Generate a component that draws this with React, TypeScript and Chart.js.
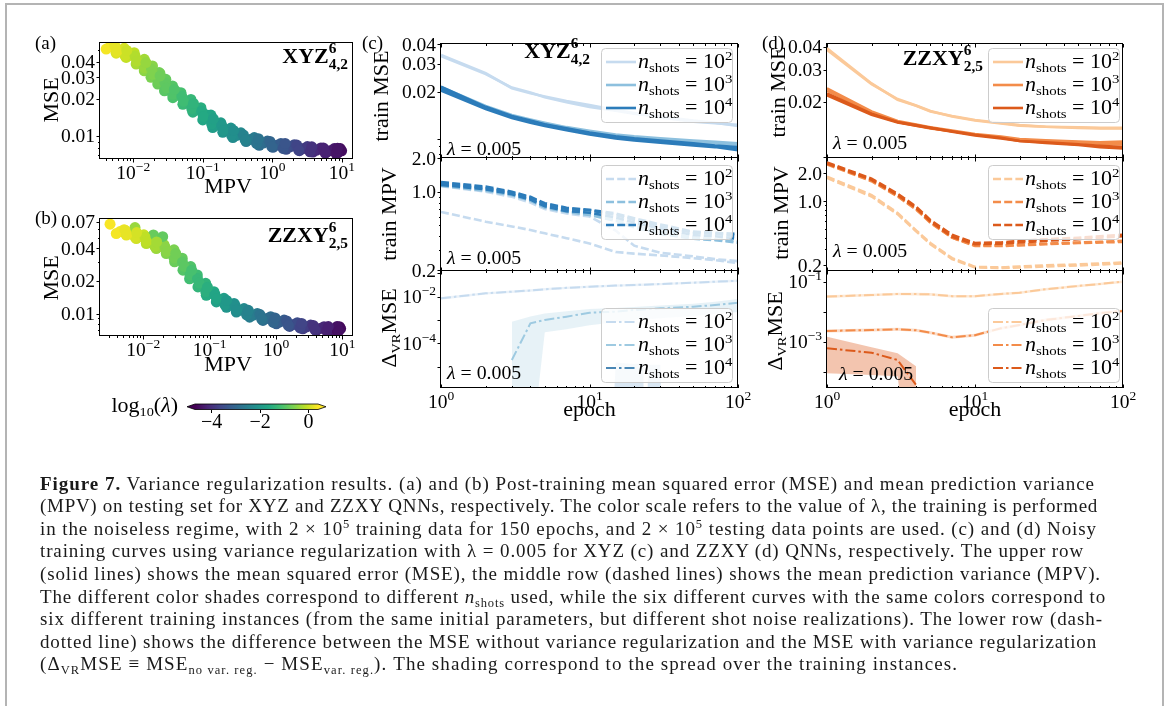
import React, { useEffect, useLayoutEffect, useRef } from 'react';
import { Chart, registerables } from 'chart.js';

Chart.register(...registerables);

const W = 1167;
const H = 706;
const SERIF = '"Liberation Serif", "DejaVu Serif", serif';
const FS = 19;
const STRETCH = 1.1;

/* ===================== DATA ===================== */
// (a) XYZ: post-training MPV, MSE and log10(lambda) of each run
const A_MPV = [
  0.00462, 0.00531, 0.00407, 0.00644, 0.00741, 0.00567, 0.00897, 0.0103, 0.00789,
  0.0125, 0.0144, 0.011, 0.0164, 0.0189, 0.0144, 0.0205, 0.0236, 0.018,
  0.0256, 0.0294, 0.0225, 0.0319, 0.0367, 0.0281, 0.0422, 0.0485, 0.0371,
  0.0587, 0.0675, 0.0517, 0.0817, 0.094, 0.0719, 0.114, 0.131, 0.1,
  0.158, 0.182, 0.139, 0.221, 0.254, 0.194, 0.308, 0.354, 0.271,
  0.478, 0.55, 0.42, 0.743, 0.85, 0.65, 1.156, 1.33, 1.02,
  1.8, 2.07, 1.58, 2.8, 3.2, 2.46, 4.36, 5.0, 3.84,
  6.76, 7.8, 5.9, 9.95, 9.5, 8.8, 0.0242, 0.0422, 0.114,
  0.00545, 0.0076, 0.0106, 0.0143, 0.0183, 0.0229, 0.0286, 0.0367, 0.0498, 0.0693, 0.0965,
  0.134, 0.187, 0.261, 0.384, 0.596, 0.927, 1.44, 2.25, 3.49, 5.43, 8.2,
  0.00578, 0.00806, 0.0112, 0.0152, 0.0194, 0.0243, 0.0303, 0.0389, 0.0528, 0.0735, 0.102,
  0.142, 0.198, 0.277, 0.407, 0.632, 0.983, 1.53, 2.39, 3.7, 5.76, 8.69,
];
const A_MSE = [
  0.053, 0.0556, 0.0509, 0.0491, 0.0516, 0.0471, 0.0453, 0.0476, 0.0435,
  0.04, 0.042, 0.0384, 0.0353, 0.0371, 0.0339, 0.0312, 0.0328, 0.03,
  0.0275, 0.0289, 0.0264, 0.0243, 0.0255, 0.0233, 0.0214, 0.0225, 0.0205,
  0.0189, 0.0198, 0.0181, 0.0162, 0.017, 0.0156, 0.0141, 0.0148, 0.0135,
  0.0122, 0.0128, 0.0117, 0.0111, 0.0116, 0.0107, 0.0101, 0.0106, 0.0097,
  0.00935, 0.0097, 0.009, 0.00877, 0.0091, 0.0084, 0.00841, 0.0087, 0.0081,
  0.00815, 0.0085, 0.0078, 0.00791, 0.0082, 0.0076, 0.00766, 0.008, 0.0074,
  0.00757, 0.0079, 0.0073, 0.00757, 0.0079, 0.0073, 0.0322, 0.0228, 0.0148,
  0.0536, 0.0451, 0.0447, 0.0359, 0.0349, 0.028, 0.0271, 0.0218, 0.0211, 0.0167, 0.0159,
  0.0125, 0.0122, 0.0101, 0.0102, 0.00865, 0.00902, 0.00791, 0.00843, 0.00743, 0.00799, 0.00723,
  0.0487, 0.0496, 0.0407, 0.0395, 0.0317, 0.0308, 0.0246, 0.0239, 0.0192, 0.0184, 0.0144,
  0.0138, 0.0111, 0.0111, 0.00928, 0.00951, 0.0082, 0.00869, 0.00767, 0.00817, 0.00727, 0.00795,
];
const A_LOGLAM = [
  0.3, 0.28, 0.32, 0.1, 0.08, 0.12, -0.1, -0.12, -0.08,
  -0.3, -0.32, -0.28, -0.5, -0.52, -0.48, -0.65, -0.67, -0.63,
  -0.8, -0.82, -0.78, -0.95, -0.97, -0.93, -1.1, -1.12, -1.08,
  -1.3, -1.32, -1.28, -1.5, -1.52, -1.48, -1.7, -1.72, -1.68,
  -1.9, -1.92, -1.88, -2.1, -2.12, -2.08, -2.3, -2.32, -2.28,
  -2.6, -2.62, -2.58, -2.9, -2.92, -2.88, -3.2, -3.22, -3.18,
  -3.5, -3.52, -3.48, -3.8, -3.82, -3.78, -4.1, -4.12, -4.08,
  -4.3, -4.32, -4.28, -4.5, -4.52, -4.48, -0.7, -1.1, -1.7,
  0.2, 0.0, -0.2, -0.4, -0.575, -0.725, -0.875, -1.025, -1.2, -1.4, -1.6,
  -1.8, -2.0, -2.2, -2.45, -2.75, -3.05, -3.35, -3.65, -3.95, -4.2, -4.4,
  0.19, -0.01, -0.21, -0.41, -0.585, -0.735, -0.885, -1.035, -1.21, -1.41, -1.61,
  -1.81, -2.01, -2.21, -2.46, -2.76, -3.06, -3.36, -3.66, -3.96, -4.21, -4.41,
];

// (b) ZZXY
const B_MPV = [
  0.00446, 0.00513, 0.00392, 0.00631, 0.00726, 0.00555, 0.00891, 0.0102, 0.00784,
  0.0126, 0.0145, 0.0111, 0.0178, 0.0205, 0.0157, 0.0252, 0.029, 0.0222,
  0.0336, 0.0386, 0.0296, 0.045, 0.0518, 0.0396, 0.0566, 0.0651, 0.0498,
  0.0757, 0.0871, 0.0666, 0.101, 0.116, 0.0889, 0.143, 0.164, 0.126,
  0.203, 0.233, 0.179, 0.286, 0.329, 0.252, 0.454, 0.522, 0.4,
  0.721, 0.829, 0.634, 1.146, 1.32, 1.01, 1.82, 2.09, 1.6,
  2.88, 3.31, 2.53, 4.58, 5.27, 4.03, 7.27, 8.36, 6.4,
  9.38, 9.0, 8.3, 0.00316, 0.0075, 0.0142, 0.0196,
  0.00531, 0.0075, 0.0106, 0.015, 0.0212, 0.0291, 0.0389, 0.0505, 0.0655, 0.0874, 0.12,
  0.17, 0.241, 0.36, 0.572, 0.909, 1.444, 2.29, 3.63, 5.77, 8.26,
  0.00563, 0.00795, 0.0112, 0.0159, 0.0225, 0.0308, 0.0412, 0.0535, 0.0694, 0.0926, 0.127,
  0.18, 0.255, 0.382, 0.606, 0.964, 1.53, 2.43, 3.85, 6.12, 8.76,
];
const B_MSE = [
  0.057, 0.0593, 0.0547, 0.0551, 0.0573, 0.0529, 0.0512, 0.0532, 0.0492,
  0.046, 0.0478, 0.0442, 0.0414, 0.0431, 0.0397, 0.0372, 0.0387, 0.0357,
  0.0312, 0.0324, 0.03, 0.0261, 0.0271, 0.0251, 0.0218, 0.0227, 0.0209,
  0.0183, 0.019, 0.0176, 0.0153, 0.0159, 0.0147, 0.0133, 0.0138, 0.0128,
  0.0119, 0.0124, 0.0114, 0.0107, 0.0111, 0.0103, 0.00964, 0.01, 0.00925,
  0.00899, 0.00935, 0.00863, 0.00836, 0.00869, 0.00803, 0.00791, 0.00823, 0.00759,
  0.00752, 0.00782, 0.00722, 0.00726, 0.00755, 0.00697, 0.00716, 0.00745, 0.00687,
  0.00726, 0.00755, 0.00697, 0.0667, 0.0621, 0.0531, 0.0512,
  0.0588, 0.0507, 0.0509, 0.0416, 0.0412, 0.0326, 0.0299, 0.0228, 0.021, 0.0159, 0.015,
  0.012, 0.0119, 0.00974, 0.00978, 0.00828, 0.00854, 0.00736, 0.00776, 0.00689, 0.00757,
  0.0535, 0.0558, 0.0463, 0.0458, 0.0374, 0.0358, 0.0272, 0.0251, 0.0191, 0.0175, 0.0137,
  0.0132, 0.0108, 0.0107, 0.00889, 0.0091, 0.00776, 0.0081, 0.00706, 0.00757, 0.00689,
];
const B_LOGLAM = [
  0.3, 0.28, 0.32, 0.15, 0.13, 0.17, 0.0, -0.02, 0.02,
  -0.2, -0.22, -0.18, -0.4, -0.42, -0.38, -0.6, -0.62, -0.58,
  -0.8, -0.82, -0.78, -1.0, -1.02, -0.98, -1.2, -1.22, -1.18,
  -1.4, -1.42, -1.38, -1.6, -1.62, -1.58, -1.85, -1.87, -1.83,
  -2.1, -2.12, -2.08, -2.3, -2.32, -2.28, -2.6, -2.62, -2.58,
  -2.9, -2.92, -2.88, -3.2, -3.22, -3.18, -3.5, -3.52, -3.48,
  -3.8, -3.82, -3.78, -4.1, -4.12, -4.08, -4.35, -4.37, -4.33,
  -4.55, -4.57, -4.53, 0.35, -0.4, -0.8, -0.85,
  0.225, 0.075, -0.1, -0.3, -0.5, -0.7, -0.9, -1.1, -1.3, -1.5, -1.725,
  -1.975, -2.2, -2.45, -2.75, -3.05, -3.35, -3.65, -3.95, -4.225, -4.45,
  0.215, 0.065, -0.11, -0.31, -0.51, -0.71, -0.91, -1.11, -1.31, -1.51, -1.735,
  -1.985, -2.21, -2.46, -2.76, -3.06, -3.36, -3.66, -3.96, -4.235, -4.46,
];

// colour bar
const LOGLAM_MIN = -4.69;
const LOGLAM_MAX = 0.39;
const CBAR_TICKS = [-4, -2, 0];

// training curves (c) XYZ and (d) ZZXY
const EPOCHS = [1, 2, 3, 4, 5, 7, 10, 15, 20, 30, 50, 70, 100];
const SHOT_EXPS = [2, 3, 4];

const C_MSE_N2 = [
  [0.0341, 0.0261, 0.021, 0.0195, 0.0186, 0.0174, 0.0164, 0.0153, 0.0146, 0.0137, 0.0129, 0.0126, 0.0123],
  [0.0335, 0.0258, 0.0212, 0.0197, 0.0184, 0.0171, 0.016, 0.0151, 0.0145, 0.0139, 0.0131, 0.0127, 0.0121],
];
const C_MSE_N3 = [
  [0.0214, 0.0162, 0.0142, 0.0133, 0.0127, 0.0119, 0.0113, 0.0107, 0.0104, 0.0101, 0.0098, 0.0096, 0.0094],
  [0.0207, 0.0157, 0.0138, 0.013, 0.0124, 0.0116, 0.0111, 0.0105, 0.0102, 0.0099, 0.0096, 0.0094, 0.0092],
];
const C_MSE_N4 = [
  [0.021, 0.0158, 0.0138, 0.0129, 0.0123, 0.0115, 0.0109, 0.0103, 0.01, 0.0097, 0.0093, 0.009, 0.0087],
  [0.0203, 0.0155, 0.0136, 0.0127, 0.0121, 0.0114, 0.0107, 0.0101, 0.0098, 0.0095, 0.0091, 0.0089, 0.0085],
  [0.0215, 0.016, 0.014, 0.0131, 0.0124, 0.0117, 0.011, 0.0104, 0.0101, 0.0098, 0.0094, 0.0091, 0.0089],
];
const C_MPV_N2 = [
  [0.66, 0.54, 0.49, 0.455, 0.425, 0.385, 0.345, 0.29, 0.28, 0.27, 0.255, 0.245, 0.23],
  [1.12, 1.0, 0.9, 0.8, 0.7, 0.64, 0.6, 0.45, 0.33, 0.285, 0.265, 0.25, 0.24],
];
const C_MPV_N3 = [
  [1.13, 1.02, 0.93, 0.83, 0.72, 0.66, 0.62, 0.55, 0.48, 0.42, 0.38, 0.37, 0.35],
  [1.17, 1.06, 0.96, 0.86, 0.75, 0.68, 0.64, 0.57, 0.5, 0.44, 0.39, 0.375, 0.36],
];
const C_MPV_N4 = [
  [1.19, 1.08, 0.98, 0.88, 0.77, 0.7, 0.68, 0.62, 0.56, 0.49, 0.43, 0.42, 0.4],
  [1.15, 1.05, 0.95, 0.85, 0.74, 0.67, 0.65, 0.59, 0.53, 0.47, 0.41, 0.4, 0.38],
  [1.22, 1.11, 1.0, 0.9, 0.79, 0.72, 0.69, 0.64, 0.58, 0.51, 0.44, 0.43, 0.42],
];
const C_DVR_N2 = [0.0085, 0.014, 0.0164, 0.0185, 0.0209, 0.024, 0.0268, 0.03, 0.0318, 0.035, 0.04, 0.044, 0.0487];
const C_DVR_N2_HI = [0.0097, 0.0157, 0.0184, 0.0207, 0.0234, 0.0269, 0.03, 0.0336, 0.0356, 0.0392, 0.0448, 0.0493, 0.0545];
const C_DVR_N2_LO = [0.0074, 0.0125, 0.0146, 0.0165, 0.0186, 0.0214, 0.0239, 0.0267, 0.0283, 0.0312, 0.0356, 0.0392, 0.0433];
const C_DVR_N3 = [null, null, 0.000019, 0.00072, 0.001, 0.00139, 0.00206, 0.00227, 0.00268, 0.00316, 0.00372, 0.0044, 0.0055];
const C_DVR_N3_HI = [null, null, 0.00085, 0.0014, 0.0019, 0.0024, 0.003, 0.0033, 0.0036, 0.0042, 0.005, 0.006, 0.008];
const C_DVR_N3_LO = [null, null, 1e-9, 1e-9, 0.0003, 0.0004, 0.0006, 0.0008, 0.001, 0.0012, 0.0015, 0.0018, 0.0022];
const C_DVR_N4_EPOCHS = [14, 15, 20, 23, 23.5, 25, 30, 31];
const C_DVR_N4_HI = [1e-9, 1.5e-5, 1.3e-5, 1.4e-5, 1e-9, 1.2e-5, 1.2e-5, 1e-9];

const D_MSE_N2 = [
  [0.0392, 0.0252, 0.0205, 0.019, 0.0177, 0.0167, 0.0159, 0.0153, 0.0149, 0.0146, 0.0145, 0.0144, 0.0144],
  [0.0385, 0.025, 0.0207, 0.0191, 0.0178, 0.0166, 0.0158, 0.0152, 0.0148, 0.0146, 0.0144, 0.0143, 0.0143],
];
const D_MSE_N3 = [
  [0.0237, 0.0177, 0.0157, 0.015, 0.0145, 0.0139, 0.0133, 0.0129, 0.0125, 0.0123, 0.0121, 0.012, 0.0121],
  [0.023, 0.0175, 0.0155, 0.0148, 0.0143, 0.0138, 0.0132, 0.0128, 0.0124, 0.0122, 0.012, 0.0118, 0.0117],
];
const D_MSE_N4 = [
  [0.0217, 0.017, 0.0154, 0.0148, 0.0144, 0.0138, 0.0132, 0.0127, 0.0122, 0.0119, 0.0116, 0.0113, 0.0111],
  [0.0222, 0.0172, 0.0155, 0.0149, 0.0144, 0.0137, 0.0131, 0.0126, 0.0122, 0.012, 0.0117, 0.0115, 0.0113],
];
const D_MPV_N2 = [
  [1.84, 1.16, 0.74, 0.48, 0.35, 0.24, 0.193, 0.19, 0.195, 0.2, 0.205, 0.21, 0.215],
  [1.78, 1.12, 0.72, 0.47, 0.34, 0.235, 0.19, 0.188, 0.19, 0.195, 0.2, 0.205, 0.21],
];
const D_MPV_N3 = [
  [2.5, 1.64, 1.12, 0.81, 0.58, 0.4, 0.325, 0.325, 0.33, 0.34, 0.35, 0.355, 0.36],
  [2.58, 1.68, 1.14, 0.82, 0.59, 0.4, 0.33, 0.33, 0.335, 0.345, 0.355, 0.36, 0.37],
];
const D_MPV_N4 = [
  [2.62, 1.75, 1.2, 0.87, 0.62, 0.43, 0.35, 0.355, 0.37, 0.385, 0.4, 0.415, 0.43],
  [2.55, 1.7, 1.16, 0.84, 0.6, 0.41, 0.34, 0.345, 0.355, 0.37, 0.385, 0.4, 0.415],
];
const D_DVR_N2 = [0.032, 0.036, 0.039, 0.0385, 0.038, 0.033, 0.033, 0.039, 0.043, 0.056, 0.072, 0.084, 0.1];
const D_DVR_N2_HI = [0.0352, 0.0396, 0.0429, 0.0424, 0.0418, 0.0363, 0.0363, 0.0429, 0.0473, 0.0616, 0.0792, 0.0924, 0.11];
const D_DVR_N2_LO = [0.0288, 0.0324, 0.0351, 0.0347, 0.0342, 0.0297, 0.0297, 0.0351, 0.0387, 0.0504, 0.0648, 0.0756, 0.09];
const D_DVR_N3 = [0.00228, 0.00245, 0.0026, 0.0024, 0.002, 0.0014, 0.00165, 0.0028, 0.0036, 0.0053, 0.0072, 0.0089, 0.0105];
const D_DVR_N3_HI = [0.00255, 0.00274, 0.0029, 0.0027, 0.00224, 0.00157, 0.00185, 0.00314, 0.00403, 0.00594, 0.00806, 0.00997, 0.0118];
const D_DVR_N3_LO = [0.00203, 0.00218, 0.00231, 0.00214, 0.00178, 0.00125, 0.00147, 0.00249, 0.0032, 0.00472, 0.00641, 0.00792, 0.00935];
const D_DVR_N4 = [0.0006, 0.00043, 0.000245, 0.000036, null, null, null, null, null, null, null, null, null];
const D_DVR_N4_HI = [0.00147, 0.00065, 0.00041, 0.00015, null, null, null, null, null, null, null, null, null];
const D_DVR_N4_LO = [0.000089, 0.000078, 0.00007, 1e-9, null, null, null, null, null, null, null, null, null];

/* ===================== STYLE ===================== */
const BLUE = ['#c6dbef', '#8dc0de', '#2c7cba'];
const BLUE_DV = ['#c6dbef', '#9ecae1', '#4a87b5'];
const ORANGE = ['#fbc999', '#f38c4a', '#dc5a1b'];
const DASHED = [8, 3.2];
const DASHDOT = [10, 3, 2.5, 3];
const SOLID: number[] = [];
const VIRIDIS = ['#440154', '#482475', '#414487', '#355f8d', '#2a788e', '#21918c', '#22a884', '#44bf70', '#7ad151', '#bddf26', '#fde725'];

function hexToRgb(h: string) {
  const n = parseInt(h.slice(1), 16);
  return [(n >> 16) & 255, (n >> 8) & 255, n & 255];
}
function viridis(t: number) {
  const c = Math.max(0, Math.min(1, t)) * (VIRIDIS.length - 1);
  const i = Math.min(VIRIDIS.length - 2, Math.floor(c));
  const f = c - i;
  const a = hexToRgb(VIRIDIS[i]);
  const b = hexToRgb(VIRIDIS[i + 1]);
  return `rgb(${a.map((v, k) => Math.round(v + (b[k] - v) * f)).join(',')})`;
}
const lamColor = (v: number) => viridis((v - LOGLAM_MIN) / (LOGLAM_MAX - LOGLAM_MIN));

/* ===================== RICH TEXT ===================== */
type Seg = { t?: string; s?: number; dy?: number; i?: boolean; b?: boolean; sup?: string; sub?: string };
const font = (sz: number, it?: boolean, bd?: boolean) => `${it ? 'italic ' : ''}${bd ? 'bold ' : ''}${sz}px ${SERIF}`;

function segW(ctx: CanvasRenderingContext2D, s: Seg, base: number, st: number) {
  if (s.sup !== undefined || s.sub !== undefined) {
    ctx.font = font(s.s ?? 13, s.i, s.b);
    return st * Math.max(ctx.measureText(s.sup ?? '').width, ctx.measureText(s.sub ?? '').width);
  }
  ctx.font = font(s.s ?? base, s.i, s.b);
  return st * ctx.measureText(s.t ?? '').width;
}
function put(ctx: CanvasRenderingContext2D, t: string, x: number, y: number, st: number) {
  ctx.save();
  ctx.translate(x, y);
  ctx.scale(st, 1);
  ctx.fillText(t, 0, 0);
  ctx.restore();
}
function drawRich(ctx: CanvasRenderingContext2D, segs: Seg[], x: number, y: number, align: string, base = FS, st = STRETCH) {
  const ws = segs.map((s) => segW(ctx, s, base, st));
  const tw = ws.reduce((a, b) => a + b, 0);
  let cx = align === 'center' ? x - tw / 2 : align === 'right' ? x - tw : x;
  ctx.textAlign = 'left';
  ctx.textBaseline = 'alphabetic';
  segs.forEach((s, k) => {
    if (s.sup !== undefined || s.sub !== undefined) {
      ctx.font = font(s.s ?? 13, s.i, s.b);
      if (s.sup) put(ctx, s.sup, cx, y - 10, st);
      if (s.sub) put(ctx, s.sub, cx, y + 6, st);
    } else {
      ctx.font = font(s.s ?? base, s.i, s.b);
      put(ctx, s.t ?? '', cx, y + (s.dy ?? 0), st);
    }
    cx += ws[k];
  });
}

const POW = (e: number): Seg[] => [{ t: '10' }, { t: (e < 0 ? '\u2212' : '') + Math.abs(e), s: 13.5, dy: -8 }];
const PLAIN = (s: string): Seg[] => [{ t: s }];
const NSHOTS = (e: number): Seg[] => [{ t: 'n', i: true }, { t: 'shots', s: 13.5, dy: 4 }, { t: ' = 10' }, { t: String(e), s: 13.5, dy: -8 }];
const LAMBDA_TXT: Seg[] = [{ t: '\u03bb', i: true }, { t: ' = 0.005' }];
const DVR_TXT: Seg[] = [{ t: '\u0394' }, { t: 'VR', s: 13, dy: 4 }, { t: 'MSE' }];

function logMinor(min: number, max: number) {
  const out: number[] = [];
  for (let e = Math.floor(Math.log10(min)); e <= Math.ceil(Math.log10(max)); e++) {
    for (let m = 1; m <= 9; m++) {
      const v = m * Math.pow(10, e);
      if (v >= min && v <= max) out.push(v);
    }
  }
  return out;
}

/* ===================== LAYOUT ===================== */
const AREA = {
  a: { l: 100, t: 43, r: 353, b: 159 },
  b: { l: 100, t: 219, r: 353, b: 336 },
  c1: { l: 441, t: 44, r: 738, b: 158 },
  c2: { l: 441, t: 158, r: 738, b: 271 },
  c3: { l: 441, t: 271, r: 738, b: 388 },
  d1: { l: 827, t: 44, r: 1123, b: 158 },
  d2: { l: 827, t: 158, r: 1123, b: 271 },
  d3: { l: 827, t: 271, r: 1123, b: 388 },
};
const TICK_FS = 19.5;
const TICK_ST = 1.0;
const TITLE_FS = 20;
const LAMBDA_FS = 18;
const LEGEND_FS = 20;

interface Txt { segs: Seg[]; x: number; y: number; align?: string; rot?: boolean; size?: number; st?: number }
interface Leg { x: number; y: number; colors: string[]; dash: number[]; lw: number }
interface Panel {
  area: { l: number; t: number; r: number; b: number };
  type: string;
  x: [number, number];
  y: [number, number];
  xMajor: [number, Seg[]][];
  xMinor: number[];
  xIn: boolean;
  xLabels: boolean;
  yMajor: [number, Seg[] | null][];
  yMinor: number[];
  datasets: any[];
  texts: Txt[];
  legend?: Leg;
}

const pts = (xs: number[], ys: (number | null)[]) => xs.map((x, i) => ({ x, y: ys[i] }));
function lineDs(ys: (number | null)[], color: string, dash: number[], lw: number, xs = EPOCHS) {
  return {
    type: 'line', data: pts(xs, ys), borderColor: color, backgroundColor: color, borderWidth: lw,
    borderDash: dash, pointRadius: 0, fill: false, tension: 0, spanGaps: false, borderCapStyle: 'butt',
  };
}
function bandDs(hi: (number | null)[], lo: (number | null)[], color: string, xs = EPOCHS) {
  return [
    { type: 'line', data: pts(xs, hi), borderWidth: 0, borderColor: 'rgba(0,0,0,0)', backgroundColor: color, pointRadius: 0, fill: '+1', tension: 0, spanGaps: false },
    { type: 'line', data: pts(xs, lo), borderWidth: 0, borderColor: 'rgba(0,0,0,0)', backgroundColor: color, pointRadius: 0, fill: false, tension: 0, spanGaps: false },
  ];
}
function scatterDs(xs: number[], ys: number[], lam: number[]) {
  return {
    type: 'scatter', data: pts(xs, ys), pointRadius: 5.5, pointBorderWidth: 0,
    pointBackgroundColor: lam.map(lamColor), pointBorderColor: 'rgba(0,0,0,0)', showLine: false,
  };
}
const instances = (sets: number[][], color: string, dash: number[], lw: number) => sets.map((s) => lineDs(s, color, dash, lw));

const X_CD = [1, 100] as [number, number];
const X_MAJOR_CD: [number, Seg[]][] = [[1, POW(0)], [10, POW(1)], [100, POW(2)]];
const X_MINOR_CD = logMinor(1, 100);
const X_MAJOR_AB: [number, Seg[]][] = [[0.01, POW(-2)], [0.1, POW(-1)], [1, POW(0)], [10, POW(1)]];

const PANELS: Panel[] = [
  {
    area: AREA.a, type: 'scatter', x: [0.00332, 14.5], y: [0.0065, 0.057],
    xMajor: X_MAJOR_AB, xMinor: logMinor(0.00332, 14.5), xIn: false, xLabels: true,
    yMajor: [[0.01, PLAIN('0.01')], [0.02, PLAIN('0.02')], [0.03, PLAIN('0.03')], [0.04, PLAIN('0.04')]],
    yMinor: logMinor(0.0065, 0.057),
    datasets: [scatterDs(A_MPV, A_MSE, A_LOGLAM)],
    texts: [
      { segs: PLAIN('(a)'), x: 35, y: 49, st: 1 },
      { segs: [{ t: 'XYZ', b: true, s: 20 }, { sup: '6', sub: '4,2', b: true, s: 14 }], x: 348, y: 63, align: 'right' },
      { segs: PLAIN('MSE'), x: 51, y: 100, rot: true, size: TITLE_FS },
      { segs: PLAIN('MPV'), x: 228, y: 193, align: 'center', size: TITLE_FS },
    ],
  },
  {
    area: AREA.b, type: 'scatter', x: [0.00223, 14.4], y: [0.0062, 0.0745],
    xMajor: X_MAJOR_AB, xMinor: logMinor(0.00223, 14.4), xIn: false, xLabels: true,
    yMajor: [[0.01, PLAIN('0.01')], [0.02, PLAIN('0.02')], [0.04, PLAIN('0.04')], [0.07, PLAIN('0.07')]],
    yMinor: logMinor(0.0062, 0.0745),
    datasets: [scatterDs(B_MPV, B_MSE, B_LOGLAM)],
    texts: [
      { segs: PLAIN('(b)'), x: 35, y: 224, st: 1 },
      { segs: [{ t: 'ZZXY', b: true, s: 20 }, { sup: '6', sub: '2,5', b: true, s: 14 }], x: 348, y: 242, align: 'right' },
      { segs: PLAIN('MSE'), x: 51, y: 278, rot: true, size: TITLE_FS },
      { segs: PLAIN('MPV'), x: 228, y: 371, align: 'center', size: TITLE_FS },
    ],
  },
  {
    area: AREA.c1, type: 'line', x: X_CD, y: [0.00759, 0.04],
    xMajor: X_MAJOR_CD, xMinor: X_MINOR_CD, xIn: true, xLabels: false,
    yMajor: [[0.02, PLAIN('0.02')], [0.03, PLAIN('0.03')], [0.04, PLAIN('0.04')], [0.01, null]],
    yMinor: [0.008, 0.009],
    datasets: [
      ...instances(C_MSE_N4, BLUE[2], SOLID, 2.6),
      ...instances(C_MSE_N3, BLUE[1], SOLID, 2.6),
      ...instances(C_MSE_N2, BLUE[0], SOLID, 2.6),
    ],
    texts: [
      { segs: PLAIN('(c)'), x: 362, y: 49, st: 1 },
      { segs: [{ t: 'XYZ', b: true, s: 20 }, { sup: '6', sub: '4,2', b: true, s: 14 }], x: 590, y: 58, align: 'right' },
      { segs: PLAIN('train MSE'), x: 381, y: 96, rot: true, size: TITLE_FS },
      { segs: LAMBDA_TXT, x: 447, y: 155, size: LAMBDA_FS },
    ],
    legend: { x: 601, y: 48, colors: BLUE, dash: SOLID, lw: 2.6 },
  },
  {
    area: AREA.c2, type: 'line', x: X_CD, y: [0.196, 2.0],
    xMajor: X_MAJOR_CD, xMinor: X_MINOR_CD, xIn: true, xLabels: false,
    yMajor: [[0.2, PLAIN('0.2')], [1.0, PLAIN('1.0')], [2.0, PLAIN('2.0')]],
    yMinor: [0.3, 0.4, 0.5, 0.6, 0.7, 0.8, 0.9],
    datasets: [
      ...instances(C_MPV_N4, BLUE[2], DASHED, 2.6),
      ...instances(C_MPV_N3, BLUE[1], DASHED, 2.6),
      ...instances(C_MPV_N2, BLUE[0], DASHED, 2.6),
    ],
    texts: [
      { segs: PLAIN('train MPV'), x: 389, y: 214, rot: true, size: TITLE_FS },
      { segs: LAMBDA_TXT, x: 447, y: 264, size: LAMBDA_FS },
    ],
    legend: { x: 601, y: 165, colors: BLUE, dash: DASHED, lw: 2.6 },
  },
  {
    area: AREA.c3, type: 'line', x: X_CD, y: [1.2e-6, 0.127],
    xMajor: X_MAJOR_CD, xMinor: X_MINOR_CD, xIn: true, xLabels: true,
    yMajor: [[0.01, POW(-2)], [0.0001, POW(-4)], [0.1, null], [0.001, null], [0.00001, null]],
    yMinor: [],
    datasets: [
      lineDs(C_DVR_N3, BLUE_DV[1], DASHDOT, 2),
      lineDs(C_DVR_N2, BLUE_DV[0], DASHDOT, 2),
      { type: 'line', data: pts(C_DVR_N4_EPOCHS, C_DVR_N4_HI), borderWidth: 0, borderColor: 'rgba(0,0,0,0)', backgroundColor: 'rgba(44,124,186,0.18)', pointRadius: 0, fill: 'start', tension: 0 },
      ...bandDs(C_DVR_N3_HI, C_DVR_N3_LO, 'rgba(158,202,225,0.25)'),
      ...bandDs(C_DVR_N2_HI, C_DVR_N2_LO, 'rgba(198,219,239,0.35)'),
    ],
    texts: [
      { segs: DVR_TXT, x: 389, y: 328, rot: true, size: TITLE_FS },
      { segs: LAMBDA_TXT, x: 447, y: 379, size: LAMBDA_FS },
      { segs: PLAIN('epoch'), x: 589.5, y: 416, align: 'center', size: TITLE_FS },
    ],
    legend: { x: 601, y: 308, colors: BLUE_DV, dash: DASHDOT, lw: 2 },
  },
  {
    area: AREA.d1, type: 'line', x: X_CD, y: [0.00985, 0.0414],
    xMajor: X_MAJOR_CD, xMinor: X_MINOR_CD, xIn: true, xLabels: false,
    yMajor: [[0.02, PLAIN('0.02')], [0.03, PLAIN('0.03')], [0.04, PLAIN('0.04')], [0.01, null]],
    yMinor: [],
    datasets: [
      ...instances(D_MSE_N4, ORANGE[2], SOLID, 2.6),
      ...instances(D_MSE_N3, ORANGE[1], SOLID, 2.6),
      ...instances(D_MSE_N2, ORANGE[0], SOLID, 2.6),
    ],
    texts: [
      { segs: PLAIN('(d)'), x: 762, y: 49, st: 1 },
      { segs: [{ t: 'ZZXY', b: true, s: 20 }, { sup: '6', sub: '2,5', b: true, s: 14 }], x: 983, y: 65, align: 'right' },
      { segs: PLAIN('train MSE'), x: 778, y: 92, rot: true, size: TITLE_FS },
      { segs: LAMBDA_TXT, x: 833, y: 149, size: LAMBDA_FS },
    ],
    legend: { x: 988, y: 48, colors: ORANGE, dash: SOLID, lw: 2.6 },
  },
  {
    area: AREA.d2, type: 'line', x: X_CD, y: [0.174, 2.93],
    xMajor: X_MAJOR_CD, xMinor: X_MINOR_CD, xIn: true, xLabels: false,
    yMajor: [[0.2, PLAIN('0.2')], [1.0, PLAIN('1.0')], [2.0, PLAIN('2.0')]],
    yMinor: [0.3, 0.4, 0.5, 0.6, 0.7, 0.8, 0.9],
    datasets: [
      ...instances(D_MPV_N4, ORANGE[2], DASHED, 2.6),
      ...instances(D_MPV_N3, ORANGE[1], DASHED, 2.6),
      ...instances(D_MPV_N2, ORANGE[0], DASHED, 2.6),
    ],
    texts: [
      { segs: PLAIN('train MPV'), x: 781, y: 213, rot: true, size: TITLE_FS },
      { segs: LAMBDA_TXT, x: 833, y: 257, size: LAMBDA_FS },
    ],
    legend: { x: 988, y: 165, colors: ORANGE, dash: DASHED, lw: 2.6 },
  },
  {
    area: AREA.d3, type: 'line', x: X_CD, y: [2.86e-5, 0.227],
    xMajor: X_MAJOR_CD, xMinor: X_MINOR_CD, xIn: true, xLabels: true,
    yMajor: [[0.1, POW(-1)], [0.001, POW(-3)], [0.01, null], [0.0001, null]],
    yMinor: [],
    datasets: [
      lineDs(D_DVR_N4, ORANGE[2], DASHDOT, 2),
      lineDs(D_DVR_N3, ORANGE[1], DASHDOT, 2),
      lineDs(D_DVR_N2, ORANGE[0], DASHDOT, 2),
      ...bandDs(D_DVR_N4_HI, D_DVR_N4_LO, 'rgba(220,90,27,0.35)'),
      ...bandDs(D_DVR_N3_HI, D_DVR_N3_LO, 'rgba(243,140,74,0.3)'),
      ...bandDs(D_DVR_N2_HI, D_DVR_N2_LO, 'rgba(251,201,153,0.4)'),
    ],
    texts: [
      { segs: DVR_TXT, x: 775, y: 331, rot: true, size: TITLE_FS },
      { segs: LAMBDA_TXT, x: 839, y: 380, size: LAMBDA_FS },
      { segs: PLAIN('epoch'), x: 975, y: 416, align: 'center', size: TITLE_FS },
    ],
    legend: { x: 988, y: 308, colors: ORANGE, dash: DASHDOT, lw: 2 },
  },
];

/* ===================== PLUGINS ===================== */
function makeDecor(p: Panel) {
  return {
    id: 'decor',
    afterDatasetsDraw(chart: any) {
      const ctx: CanvasRenderingContext2D = chart.ctx;
      const { left, right, top, bottom } = chart.chartArea;
      const sx = chart.scales.x;
      const sy = chart.scales.y;
      ctx.save();
      ctx.strokeStyle = '#000';
      ctx.fillStyle = '#000';
      ctx.lineWidth = 1;
      ctx.setLineDash([]);
      const seg = (x1: number, y1: number, x2: number, y2: number) => {
        ctx.beginPath();
        ctx.moveTo(x1, y1);
        ctx.lineTo(x2, y2);
        ctx.stroke();
      };
      const xt = (v: number, len: number) => {
        const px = Math.round(sx.getPixelForValue(v)) + 0.5;
        if (px < left - 1 || px > right + 1) return;
        if (p.xIn) {
          seg(px, bottom, px, bottom - len);
          seg(px, top, px, top + len);
        } else seg(px, bottom, px, bottom + len);
      };
      p.xMinor.forEach((v) => xt(v, 2));
      p.xMajor.forEach(([v]) => xt(v, 3.5));
      const yt = (v: number, len: number) => {
        const py = Math.round(sy.getPixelForValue(v)) + 0.5;
        if (py < top - 1 || py > bottom + 1) return;
        seg(left - len, py, left, py);
      };
      p.yMinor.forEach((v) => yt(v, 2));
      p.yMajor.forEach(([v]) => yt(v, 3.5));
      ctx.strokeRect(left - 0.5, top - 0.5, right - left, bottom - top);

      if (p.xLabels) p.xMajor.forEach(([v, s]) => drawRich(ctx, s, sx.getPixelForValue(v), bottom + 20, 'center', TICK_FS, TICK_ST));
      p.yMajor.forEach(([v, s]) => {
        if (s) drawRich(ctx, s, left - 5, sy.getPixelForValue(v) + 6.5, 'right', TICK_FS, TICK_ST);
      });

      p.texts.forEach((t) => {
        const base = t.size ?? FS;
        const st = t.st ?? STRETCH;
        if (t.rot) {
          ctx.save();
          ctx.translate(t.x, t.y);
          ctx.rotate(-Math.PI / 2);
          drawRich(ctx, t.segs, 0, 6.5, 'center', base, st);
          ctx.restore();
        } else drawRich(ctx, t.segs, t.x, t.y, t.align ?? 'left', base, st);
      });

      if (p.legend) {
        const L = p.legend;
        ctx.beginPath();
        (ctx as any).roundRect(L.x + 0.5, L.y + 0.5, 131, 74, 4);
        ctx.fillStyle = 'rgba(255,255,255,0.8)';
        ctx.fill();
        ctx.strokeStyle = '#cccccc';
        ctx.stroke();
        SHOT_EXPS.forEach((e, i) => {
          const ry = L.y + 14 + i * 23;
          ctx.strokeStyle = L.colors[i];
          ctx.lineWidth = L.lw;
          ctx.setLineDash(L.dash);
          ctx.lineCap = 'butt';
          seg(L.x + 5, ry, L.x + 35, ry);
          ctx.setLineDash([]);
          ctx.fillStyle = '#000';
          drawRich(ctx, NSHOTS(e), L.x + 37, ry + 6, 'left', LEGEND_FS);
        });
      }
      ctx.restore();
    },
  };
}

function buildChart(canvas: HTMLCanvasElement, p: Panel) {
  return new Chart(canvas, {
    type: p.type as any,
    data: { datasets: p.datasets },
    options: {
      responsive: false,
      maintainAspectRatio: false,
      animation: false,
      devicePixelRatio: 1,
      events: [],
      layout: { padding: { left: p.area.l, top: p.area.t, right: W - p.area.r, bottom: H - p.area.b } },
      plugins: { legend: { display: false }, tooltip: { enabled: false }, title: { display: false } },
      scales: {
        x: { type: 'logarithmic', display: false, min: p.x[0], max: p.x[1], bounds: 'data' },
        y: { type: 'logarithmic', display: false, min: p.y[0], max: p.y[1], bounds: 'data' },
      },
    } as any,
    plugins: [makeDecor(p)],
  });
}

function buildColorbar(canvas: HTMLCanvasElement) {
  const L = 195;
  const R = 318;
  const T = 404;
  const B = 409.5;
  const AX_H = 26;
  const cbar = {
    id: 'cbar',
    afterDraw(chart: any) {
      const ctx: CanvasRenderingContext2D = chart.ctx;
      const { left, right, top, bottom } = chart.chartArea;
      const tri = 8;
      const mid = (top + bottom) / 2;
      ctx.save();
      const g = ctx.createLinearGradient(left, 0, right, 0);
      VIRIDIS.forEach((c, i) => g.addColorStop(i / (VIRIDIS.length - 1), c));
      ctx.fillStyle = g;
      ctx.fillRect(left, top, right - left, bottom - top);
      ctx.fillStyle = VIRIDIS[0];
      ctx.beginPath();
      ctx.moveTo(left, top);
      ctx.lineTo(left - tri, mid);
      ctx.lineTo(left, bottom);
      ctx.closePath();
      ctx.fill();
      ctx.fillStyle = VIRIDIS[VIRIDIS.length - 1];
      ctx.beginPath();
      ctx.moveTo(right, top);
      ctx.lineTo(right + tri, mid);
      ctx.lineTo(right, bottom);
      ctx.closePath();
      ctx.fill();
      ctx.strokeStyle = '#000';
      ctx.lineWidth = 0.8;
      ctx.beginPath();
      ctx.moveTo(left, top);
      ctx.lineTo(right, top);
      ctx.lineTo(right + tri, mid);
      ctx.lineTo(right, bottom);
      ctx.lineTo(left, bottom);
      ctx.lineTo(left - tri, mid);
      ctx.closePath();
      ctx.stroke();
      ctx.fillStyle = '#000';
      drawRich(ctx, [{ t: 'log' }, { t: '10', s: 13, dy: 4 }, { t: '(' }, { t: '\u03bb', i: true }, { t: ')' }], left - tri - 9, 412, 'right', 20);
      ctx.restore();
    },
  };
  return new Chart(canvas, {
    type: 'scatter',
    data: { datasets: [] },
    options: {
      responsive: false,
      maintainAspectRatio: false,
      animation: false,
      devicePixelRatio: 1,
      events: [],
      layout: { padding: { left: L, right: W - R, top: T, bottom: H - B - AX_H } },
      plugins: { legend: { display: false }, tooltip: { enabled: false } },
      scales: {
        x: {
          type: 'linear', min: LOGLAM_MIN, max: LOGLAM_MAX, bounds: 'data',
          afterBuildTicks: (s: any) => { s.ticks = CBAR_TICKS.map((v) => ({ value: v })); },
          afterFit: (s: any) => { s.height = AX_H; },
          ticks: {
            color: '#000', font: { family: SERIF, size: 20 }, padding: -2, maxRotation: 0, autoSkip: false,
            callback: (v: any) => (v < 0 ? '\u2212' + Math.abs(v) : String(v)),
          },
          grid: { display: true, drawOnChartArea: false, drawTicks: true, tickLength: 3.5, color: '#000', lineWidth: 1 },
          border: { display: false },
        },
        y: { display: false, min: 0, max: 1 },
      },
    } as any,
    plugins: [cbar],
  });
}

/* ===================== CAPTION ===================== */
const CAPTION_LEFT = 40;
const CAPTION_TOP = 486;
const CAPTION_STEP = 22.6;
const CAPTION_RIGHT = [1095, 1098, 1097, 1084, 1101, 1106, 1103, 1097, 958];

const sup = (t: string) => <span style={{ fontSize: 12.5, position: 'relative', top: -7 }}>{t}</span>;
const sub = (t: string) => <span style={{ fontSize: 12.5, position: 'relative', top: 4 }}>{t}</span>;

const CAPTION_LINES = [
  <><b>Figure 7.</b> Variance regularization results. (a) and (b) Post-training mean squared error (MSE) and mean prediction variance</>,
  <>(MPV) on testing set for XYZ and ZZXY QNNs, respectively. The color scale refers to the value of {'\u03bb'}, the training is performed</>,
  <>in the noiseless regime, with 2 {'\u00d7'} 10{sup('5')} training data for 150 epochs, and 2 {'\u00d7'} 10{sup('5')} testing data points are used. (c) and (d) Noisy</>,
  <>training curves using variance regularization with {'\u03bb'} = 0.005 for XYZ (c) and ZZXY (d) QNNs, respectively. The upper row</>,
  <>(solid lines) shows the mean squared error (MSE), the middle row (dashed lines) shows the mean prediction variance (MPV).</>,
  <>The different color shades correspond to different <i>n</i>{sub('shots')} used, while the six different curves with the same colors correspond to</>,
  <>six different training instances (from the same initial parameters, but different shot noise realizations). The lower row (dash-</>,
  <>dotted line) shows the difference between the MSE without variance regularization and the MSE with variance regularization</>,
  <>({'\u0394'}{sub('VR')}MSE {'\u2261'} MSE{sub('no var. reg.')} {'\u2212'} MSE{sub('var. reg.')}). The shading correspond to the spread over the training instances.</>,
];

function Caption() {
  const refs = useRef<(HTMLDivElement | null)[]>([]);
  useLayoutEffect(() => {
    refs.current.forEach((el, i) => {
      if (!el) return;
      el.style.letterSpacing = '0px';
      const w = el.getBoundingClientRect().width;
      const n = (el.textContent || '').length;
      const target = CAPTION_RIGHT[i] - CAPTION_LEFT;
      if (n > 0) el.style.letterSpacing = `${(target - w) / n}px`;
    });
  }, []);
  return (
    <>
      {CAPTION_LINES.map((ln, i) => (
        <div
          key={i}
          ref={(el) => { refs.current[i] = el; }}
          style={{
            position: 'absolute', left: CAPTION_LEFT, top: CAPTION_TOP + i * CAPTION_STEP - 12.5,
            whiteSpace: 'pre', fontFamily: SERIF, fontSize: 19, lineHeight: '20px', color: '#1a1a1a',
          }}
        >
          {ln}
        </div>
      ))}
    </>
  );
}

/* ===================== APP ===================== */
export default function App() {
  const refs = useRef<(HTMLCanvasElement | null)[]>([]);
  const cbRef = useRef<HTMLCanvasElement | null>(null);
  useEffect(() => {
    document.body.style.margin = '0';
    document.body.style.overflow = 'hidden';
    const charts: Chart[] = PANELS.map((p, i) => buildChart(refs.current[i] as HTMLCanvasElement, p));
    if (cbRef.current) charts.push(buildColorbar(cbRef.current));
    return () => charts.forEach((c) => c.destroy());
  }, []);
  const cv: React.CSSProperties = { position: 'absolute', left: 0, top: 0, width: W, height: H };
  return (
    <div style={{ position: 'absolute', left: 0, top: 0, width: W, height: H, background: '#fff', overflow: 'hidden' }}>
      <div style={{ position: 'absolute', left: 5, top: 3, width: 1159, height: 800, border: '2px solid #b4b4b4', boxSizing: 'border-box' }} />
      {PANELS.map((_, i) => (
        <canvas key={i} ref={(el) => { refs.current[i] = el; }} width={W} height={H} style={cv} />
      ))}
      <canvas ref={cbRef} width={W} height={H} style={cv} />
      <Caption />
    </div>
  );
}
